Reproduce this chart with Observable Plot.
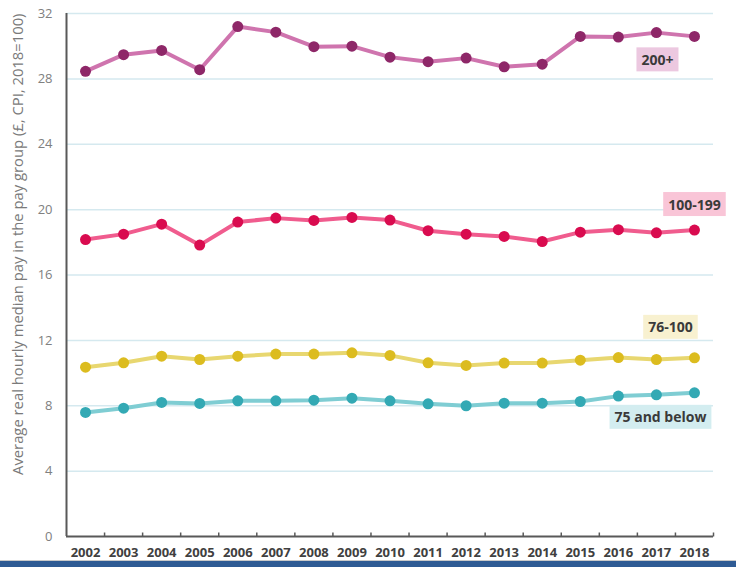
<!DOCTYPE html>
<html>
<head>
<meta charset="utf-8">
<script src="https://cdn.jsdelivr.net/npm/d3@7"></script>
<script src="https://cdn.jsdelivr.net/npm/@observablehq/plot@0.6"></script>
<style>
  body { margin: 0; background: #fff; font-family: "Open Sans", sans-serif; }
  #chart { width: 736px; height: 560px; }
  .footer-bar { height: 6px; background: #2f5b94; border-top: 1px solid #c9c9c9; }
</style>
</head>
<body>
<div id="chart"></div>
<div class="footer-bar"></div>
<script>
// Years on the x axis
const years = [2002, 2003, 2004, 2005, 2006, 2007, 2008, 2009, 2010,
               2011, 2012, 2013, 2014, 2015, 2016, 2017, 2018];

// Average real hourly median pay by pay group (£, CPI, 2018=100)
const pay200Plus  = [28.46, 29.48, 29.74, 28.56, 31.20, 30.86, 29.97, 30.00, 29.33,
                     29.05, 29.27, 28.74, 28.90, 30.60, 30.56, 30.83, 30.60];
const pay100to199 = [18.17, 18.50, 19.11, 17.83, 19.24, 19.48, 19.34, 19.52, 19.36,
                     18.71, 18.50, 18.36, 18.05, 18.62, 18.77, 18.58, 18.75];
const pay76to100  = [10.36, 10.63, 11.03, 10.83, 11.03, 11.16, 11.16, 11.24, 11.08,
                     10.63, 10.47, 10.61, 10.61, 10.79, 10.95, 10.83, 10.93];
const pay75Below  = [7.59, 7.85, 8.20, 8.14, 8.30, 8.30, 8.34, 8.46, 8.30,
                     8.12, 8.00, 8.16, 8.16, 8.26, 8.59, 8.67, 8.79];

const groupNames = ["200+", "100-199", "76-100", "75 and below"];
const yTicks = [0, 4, 8, 12, 16, 20, 24, 28, 32];
const yLabel = "Average real hourly median pay in the pay group (£, CPI, 2018=100)";

// Styling for each group: line, dot, label box colours and label offset from the 2018 point
const series = [
  { name: groupNames[0], values: pay200Plus,  line: "#cf74ae", dot: "#8e2768", box: "#ecc8e0", dx: -37, dy: 24 },
  { name: groupNames[1], values: pay100to199, line: "#f05c8e", dot: "#d90b4f", box: "#f9c5d7", dx: 0,   dy: -25 },
  { name: groupNames[2], values: pay76to100,  line: "#e8d770", dot: "#dcbc1f", box: "#f8f1d0", dx: -24, dy: -30 },
  { name: groupNames[3], values: pay75Below,  line: "#7fcdd3", dot: "#33a9b4", box: "#d3edf0", dx: -34, dy: 25 }
];

const rowsFor = s => years.map((year, i) => ({ group: s.name, year, value: s.values[i] }));

// Tick marks sit on the boundaries between years
const boundaries = years.map(y => y + 0.5);
const upTick = { draw(context) { context.moveTo(0, 0); context.lineTo(0, -4); } };

const axisColor = "#595959";

const marks = [
  Plot.gridY(yTicks.filter(v => v > 0), { stroke: "#d5e9ef", strokeOpacity: 1, strokeWidth: 1.5 }),
  Plot.axisY(yTicks, {
    tickSize: 0, tickPadding: 14, fontSize: 13, fontWeight: "normal", fill: "#808080", label: null
  }),
  // Rotated y-axis title, its end aligned with the top of the frame
  Plot.text([yLabel], {
    frameAnchor: "top-left", rotate: -90, textAnchor: "end", lineAnchor: "middle",
    dx: -48, fontSize: 14.8, fill: "#7a7a7a"
  }),
  Plot.axisX(years, {
    tickSize: 0, tickPadding: 11, fontSize: 13, fontWeight: "bold", fill: "#404040",
    tickFormat: d => String(d), label: null
  }),
  Plot.ruleY([0], { stroke: axisColor, strokeWidth: 2 }),
  Plot.ruleX([years[0] - 0.5], { stroke: axisColor, strokeWidth: 2 }),
  Plot.dot(boundaries, { x: d => d, y: () => 0, symbol: upTick, r: 2, stroke: axisColor, strokeWidth: 1.5, fill: "none" })
];

for (const s of series) {
  const rows = rowsFor(s);
  marks.push(Plot.line(rows, { x: "year", y: "value", stroke: s.line, strokeWidth: 4 }));
  marks.push(Plot.dot(rows, { x: "year", y: "value", r: 5.5, fill: s.dot, stroke: "none" }));
}
for (const s of series) {
  const last = rowsFor(s).slice(-1);
  marks.push(Plot.text(last, {
    x: "year", y: "value", text: "group", dx: s.dx, dy: s.dy,
    fontSize: 14, fontWeight: "bold", fill: "#3a3a3a", textAnchor: "middle"
  }));
}

const chart = Plot.plot({
  width: 736,
  height: 560,
  marginLeft: 66,
  marginRight: 23,
  marginTop: 13,
  marginBottom: 24,
  style: { fontFamily: '"Open Sans", sans-serif', background: "#fff", overflow: "visible" },
  x: { domain: [years[0] - 0.5, years[years.length - 1] + 0.5] },
  y: { domain: [0, 32] },
  marks
});

document.getElementById("chart").append(chart);

// Shaded boxes behind the group labels
const boxColor = Object.fromEntries(series.map(s => [s.name, s.box]));
chart.querySelectorAll('g[aria-label="text"] text').forEach(t => {
  const fill = boxColor[t.textContent];
  if (!fill) return;
  const b = t.getBBox();
  const rect = document.createElementNS("http://www.w3.org/2000/svg", "rect");
  rect.setAttribute("x", b.x - 5);
  rect.setAttribute("y", b.y + b.height / 2 - 12);
  rect.setAttribute("width", b.width + 10);
  rect.setAttribute("height", 24);
  rect.setAttribute("fill", fill);
  if (t.getAttribute("transform")) rect.setAttribute("transform", t.getAttribute("transform"));
  t.parentNode.insertBefore(rect, t);
});
</script>
</body>
</html>
